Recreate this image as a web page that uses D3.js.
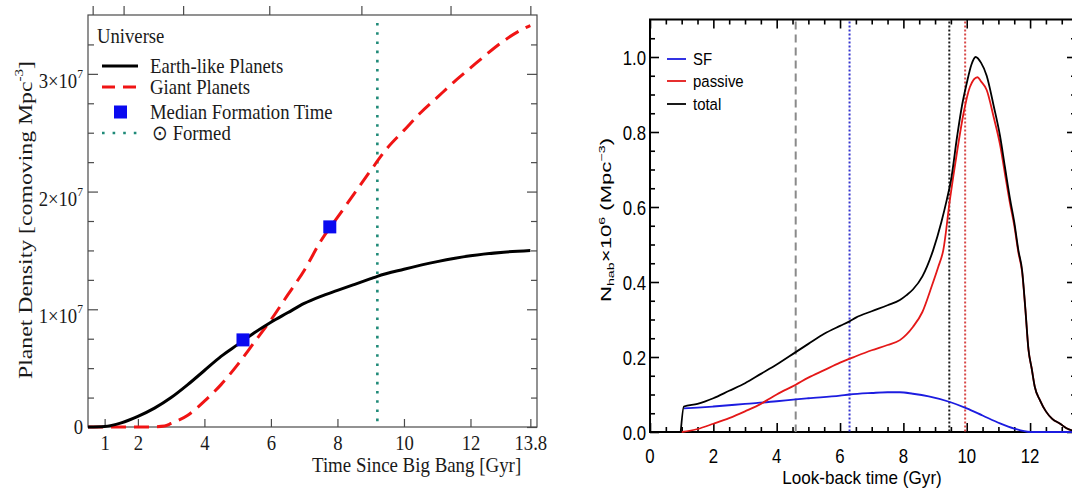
<!DOCTYPE html>
<html>
<head>
<meta charset="utf-8">
<script src="https://cdn.jsdelivr.net/npm/d3@7"></script>
<style>
  body { margin: 0; background: #fff; }
  svg { display: block; }
</style>
</head>
<body>
<div id="vis"></div>
<script>
// ---------- left panel data (time since Big Bang, density in units of 1e7 Mpc^-3)
const earthTime = [0.5, 1, 1.5, 2, 2.5, 3, 3.5, 4, 4.5, 5, 5.5, 6, 6.5, 7, 7.5, 8, 8.5, 9, 9.2, 10, 11, 12, 13, 13.8];
const earthDensity = [0, 0.004, 0.035, 0.09, 0.16, 0.25, 0.36, 0.48, 0.6, 0.7, 0.8, 0.89, 0.97, 1.05, 1.11, 1.16, 1.21, 1.26, 1.28, 1.34, 1.405, 1.455, 1.485, 1.5];
const giantTime = [0.5, 1, 1.5, 2, 2.5, 2.8, 3, 3.5, 4, 4.5, 5, 5.5, 6, 6.5, 7, 7.5, 8, 8.5, 9, 9.5, 10, 10.5, 11, 11.5, 12, 12.5, 13, 13.5, 13.8];
const giantDensity = [0, 0, 0, 0, 0.002, 0.008, 0.03, 0.1, 0.22, 0.36, 0.53, 0.72, 0.91, 1.12, 1.33, 1.58, 1.78, 1.98, 2.18, 2.37, 2.52, 2.67, 2.8, 2.93, 3.05, 3.17, 3.28, 3.37, 3.41];
const medianTime = [5.16, 7.77];
const medianDensity = [0.74, 1.7];
const sunFormedTime = 9.2;
const leftXTicks = [1, 2, 4, 6, 8, 10, 12, 13.8];
const leftYTicks = [0, 1, 2, 3];
const redshiftTickTimes = [0.64, 1.57, 3.36, 5.95, 8.72, 11.4, 13.8];
const leftLegend = ["Earth-like Planets", "Giant Planets", "Median Formation Time", "Formed"];

// ---------- right panel data (look-back time, N x 1e6 Mpc^-3)
const totalTime = [0.97, 1.07, 1.5, 2, 2.5, 3, 3.5, 4, 4.6, 5, 5.5, 6, 6.3, 6.5, 7, 7.5, 7.89, 8.1, 8.3, 8.6, 8.94, 9.2, 9.37, 9.5, 9.7, 9.85, 10.0, 10.15, 10.28, 10.45, 10.63, 10.85, 11.05, 11.2, 11.37, 11.5, 11.63, 11.75, 11.85, 11.95, 12.05, 12.15, 12.31, 12.5, 12.7, 12.95, 13.15, 13.45];
const totalDensity = [0, 0.068, 0.075, 0.09, 0.11, 0.13, 0.155, 0.18, 0.213, 0.235, 0.262, 0.283, 0.295, 0.305, 0.322, 0.338, 0.352, 0.365, 0.38, 0.415, 0.485, 0.56, 0.619, 0.67, 0.79, 0.87, 0.93, 0.98, 1.0, 0.985, 0.95, 0.87, 0.79, 0.71, 0.62, 0.56, 0.485, 0.43, 0.33, 0.22, 0.17, 0.12, 0.085, 0.055, 0.035, 0.022, 0.01, 0.002];
const passiveTime = [1.0, 1.5, 2, 2.5, 3, 3.5, 3.7, 4, 4.6, 5, 5.5, 6, 6.5, 7, 7.5, 7.89, 8.3, 8.6, 8.9, 9.1, 9.26, 9.47, 9.7, 9.9, 10.1, 10.34, 10.45, 10.63, 10.85, 11.05, 11.2, 11.37, 11.5, 11.63, 11.75, 11.85, 11.95, 12.05, 12.15, 12.31, 12.5, 12.7, 12.95, 13.15, 13.45];
const passiveDensity = [0, 0.008, 0.022, 0.037, 0.055, 0.075, 0.085, 0.1, 0.126, 0.145, 0.165, 0.185, 0.202, 0.218, 0.232, 0.245, 0.28, 0.32, 0.39, 0.44, 0.485, 0.62, 0.75, 0.85, 0.92, 0.946, 0.935, 0.912, 0.84, 0.767, 0.692, 0.608, 0.551, 0.479, 0.426, 0.328, 0.219, 0.17, 0.12, 0.085, 0.055, 0.035, 0.022, 0.01, 0.002];
const sfTime = [1.07, 1.5, 2, 3, 4, 4.6, 5, 6, 6.3, 7, 7.5, 7.89, 8.3, 8.8, 9.47, 10.0, 10.5, 11.05, 11.5, 12.0, 12.5, 13.45];
const sfDensity = [0.063, 0.065, 0.068, 0.075, 0.082, 0.087, 0.09, 0.097, 0.1, 0.104, 0.106, 0.106, 0.102, 0.095, 0.08, 0.063, 0.044, 0.023, 0.009, 0, 0, 0];
const markerTimes = [4.6, 6.3, 9.45, 9.95];
const rightXTicks = [0, 2, 4, 6, 8, 10, 12];
const rightYTicks = [0, 0.2, 0.4, 0.6, 0.8, 1.0];
const rightLegend = ["SF", "passive", "total"];

const W = 1072, H = 495;
const svg = d3.select("#vis").append("svg").attr("width", W).attr("height", H);
svg.append("rect").attr("width", W).attr("height", H).attr("fill", "#fff");

const SERIF = "'Liberation Serif', 'Times New Roman', serif";
const SANS = "'Liberation Sans', Arial, sans-serif";

// text helper: squeezed horizontally like the scanned figure
function label(g, x, y, str, opts) {
    const o = Object.assign({size: 21, k: 0.89, anchor: "start", font: SERIF, fill: "#1a1a1a", rot: 0, ky: 1}, opts);
    let tr = `translate(${x},${y})`;
    if (o.rot) tr += ` rotate(${o.rot})`;
    tr += ` scale(${o.k},${o.ky})`;
    return g.append("text")
        .attr("transform", tr)
        .attr("text-anchor", o.anchor)
        .attr("font-family", o.font)
        .attr("font-size", o.size)
        .attr("fill", o.fill)
        .text(str);
}

// ================= LEFT PANEL =================
const xL = d3.scaleLinear().domain([0.5, 14]).range([88, 537]);
const yL = d3.scaleLinear().domain([0, 3.5]).range([427, 15]);
const left = svg.append("g");
const frameL = "#4a4a4a";

function cleanAxis(g, color, w) {
    g.select(".domain").remove();
    g.selectAll(".tick line").attr("stroke", color).attr("stroke-width", w);
}

// bottom ticks + labels
left.append("g").attr("transform", `translate(0,${yL(0)})`)
    .call(d3.axisBottom(xL).tickValues(leftXTicks).tickSize(-8).tickPadding(8).tickFormat(d => d))
    .call(g => cleanAxis(g, frameL, 1.2))
    .call(g => g.selectAll("text").attr("font-family", SERIF).attr("font-size", 21)
        .attr("fill", "#1a1a1a").attr("transform", "scale(0.89,1)"));

// top ticks (redshift, outward, unlabeled)
left.append("g").attr("transform", `translate(0,${yL(3.5)})`)
    .call(d3.axisTop(xL).tickValues(redshiftTickTimes).tickSize(9).tickFormat(""))
    .call(g => cleanAxis(g, frameL, 1.2));

// left and right ticks
const minorL = d3.range(0.25, 3.5, 0.25).filter(v => Math.abs(v - Math.round(v)) > 0.01);
left.append("g").attr("transform", `translate(${xL(0.5)},0)`)
    .call(d3.axisLeft(yL).tickValues(leftYTicks).tickSize(-10).tickFormat(""))
    .call(g => cleanAxis(g, frameL, 1.2));
left.append("g").attr("transform", `translate(${xL(0.5)},0)`)
    .call(d3.axisLeft(yL).tickValues(minorL).tickSize(-6).tickFormat(""))
    .call(g => cleanAxis(g, frameL, 1.2));
left.append("g").attr("transform", `translate(${xL(14)},0)`)
    .call(d3.axisRight(yL).tickValues(leftYTicks).tickSize(-10).tickFormat(""))
    .call(g => cleanAxis(g, frameL, 1.2));
left.append("g").attr("transform", `translate(${xL(14)},0)`)
    .call(d3.axisRight(yL).tickValues(minorL).tickSize(-6).tickFormat(""))
    .call(g => cleanAxis(g, frameL, 1.2));

// y tick labels "n×10^7"
leftYTicks.forEach(v => {
    if (v === 0) {
        label(left, 83, yL(v) + 7, "0", {anchor: "end"});
    } else {
        const t = label(left, 83, yL(v) + 14, `${v}×10`, {anchor: "end"});
        t.append("tspan").attr("dy", -10).attr("font-size", 13).text("7");
    }
});

// frame
left.append("rect")
    .attr("x", xL(0.5)).attr("y", yL(3.5))
    .attr("width", xL(14) - xL(0.5)).attr("height", yL(0) - yL(3.5))
    .attr("fill", "none").attr("stroke", frameL).attr("stroke-width", 1.2);

// sun-formed marker
left.append("line")
    .attr("x1", xL(sunFormedTime)).attr("x2", xL(sunFormedTime))
    .attr("y1", yL(3.5) + 8).attr("y2", yL(0))
    .attr("stroke", "#1f8a78").attr("stroke-width", 2.6).attr("stroke-dasharray", "2.6,6.6");

const lineL = d3.line().x(d => xL(d[0])).y(d => yL(d[1])).curve(d3.curveMonotoneX);
left.append("path").datum(d3.zip(giantTime, giantDensity))
    .attr("d", lineL).attr("fill", "none").attr("stroke", "#f01414")
    .attr("stroke-width", 3).attr("stroke-dasharray", "15,8");
left.append("path").datum(d3.zip(earthTime, earthDensity))
    .attr("d", lineL).attr("fill", "none").attr("stroke", "#000").attr("stroke-width", 3);

left.selectAll(".median").data(d3.zip(medianTime, medianDensity)).join("rect")
    .attr("x", d => xL(d[0]) - 6.5).attr("y", d => yL(d[1]) - 6.5)
    .attr("width", 13).attr("height", 13).attr("fill", "#0a0af0");

// axis titles
label(left, 312, 472, "Time Since Big Bang [Gyr]", {k: 0.9});
const yt = label(left, 32, 220, "Planet Density [comoving Mpc", {rot: -90, anchor: "middle", size: 22, k: 1.08, ky: 0.89});
yt.append("tspan").attr("dy", -10).attr("font-size", 14).text("-3");
yt.append("tspan").attr("dy", 10).text("]");

// legend
label(left, 97, 43, "Universe");
const legY = [66, 87, 112, 133];
left.append("line").attr("x1", 102).attr("x2", 138).attr("y1", legY[0]).attr("y2", legY[0])
    .attr("stroke", "#000").attr("stroke-width", 3);
left.append("line").attr("x1", 102).attr("x2", 138).attr("y1", legY[1]).attr("y2", legY[1])
    .attr("stroke", "#f01414").attr("stroke-width", 3).attr("stroke-dasharray", "13,8");
left.append("rect").attr("x", 114).attr("y", legY[2] - 6.5).attr("width", 13).attr("height", 13).attr("fill", "#0a0af0");
left.append("line").attr("x1", 102).attr("x2", 140).attr("y1", legY[3]).attr("y2", legY[3])
    .attr("stroke", "#1f8a78").attr("stroke-width", 2.6).attr("stroke-dasharray", "2.6,8");
leftLegend.forEach((s, i) => {
    if (i === 3) {
        label(left, 152, legY[i] + 7, "⊙ " + s);
    } else {
        label(left, 150, legY[i] + 7, s);
    }
});

// ================= RIGHT PANEL =================
const xR = d3.scaleLinear().domain([0, 13.45]).range([650, 1076]);
const yR = d3.scaleLinear().domain([0, 1.1]).range([432, 19.5]);
const right = svg.append("g");

const minorRX = d3.range(0.5, 13.45, 0.5).filter(v => v % 2 !== 0);
const minorRY = d3.range(0.05, 1.1, 0.05).filter(v => Math.abs(v * 5 - Math.round(v * 5)) > 0.01);

function rTicks(axis, x, y, vals, size) {
    right.append("g").attr("transform", `translate(${x},${y})`)
        .call(axis.tickValues(vals).tickSize(size).tickFormat(""))
        .call(g => cleanAxis(g, "#000", 1.6));
}
rTicks(d3.axisBottom(xR), 0, yR(0), rightXTicks, -9);
rTicks(d3.axisBottom(xR), 0, yR(0), minorRX, -5);
rTicks(d3.axisTop(xR), 0, yR(1.1), rightXTicks, -9);
rTicks(d3.axisTop(xR), 0, yR(1.1), minorRX, -5);
rTicks(d3.axisLeft(yR), xR(0), 0, rightYTicks, -9);
rTicks(d3.axisLeft(yR), xR(0), 0, minorRY, -5);
rTicks(d3.axisRight(yR), xR(13.45), 0, rightYTicks, -9);
rTicks(d3.axisRight(yR), xR(13.45), 0, minorRY, -5);

rightXTicks.forEach(v => label(right, xR(v), 463, String(v), {font: SANS, size: 21, k: 0.8, anchor: "middle", fill: "#000"}));
rightYTicks.forEach(v => label(right, 646, yR(v) + 8, v.toFixed(1), {font: SANS, size: 21, k: 0.8, anchor: "end", fill: "#000"}));

right.append("rect")
    .attr("x", xR(0)).attr("y", yR(1.1))
    .attr("width", xR(13.45) - xR(0)).attr("height", yR(0) - yR(1.1))
    .attr("fill", "none").attr("stroke", "#000").attr("stroke-width", 2);

// vertical markers
const markerStyle = [
    {c: "#8a8a8a", dash: "8,5", w: 2},
    {c: "#3434d0", dash: "2,2", w: 2},
    {c: "#1a1a1a", dash: "2,2", w: 2},
    {c: "#d84848", dash: "2,2", w: 2}
];
markerTimes.forEach((t, i) => {
    right.append("line")
        .attr("x1", xR(t)).attr("x2", xR(t)).attr("y1", yR(1.1) + 2).attr("y2", yR(0))
        .attr("stroke", markerStyle[i].c).attr("stroke-width", markerStyle[i].w)
        .attr("stroke-dasharray", markerStyle[i].dash);
});

const lineR = d3.line().x(d => xR(d[0])).y(d => yR(d[1])).curve(d3.curveMonotoneX);
right.append("path").datum(d3.zip(sfTime, sfDensity))
    .attr("d", lineR).attr("fill", "none").attr("stroke", "#1c1ce0").attr("stroke-width", 1.8);
right.append("path").datum(d3.zip(passiveTime, passiveDensity))
    .attr("d", lineR).attr("fill", "none").attr("stroke", "#e41818").attr("stroke-width", 1.8);
right.append("path").datum(d3.zip(totalTime, totalDensity))
    .attr("d", lineR).attr("fill", "none").attr("stroke", "#000").attr("stroke-width", 1.8);

// legend
const legColors = ["#1c1ce0", "#e41818", "#000"];
const legRY = [59, 81, 104];
rightLegend.forEach((s, i) => {
    right.append("line").attr("x1", 667).attr("x2", 686).attr("y1", legRY[i]).attr("y2", legRY[i])
        .attr("stroke", legColors[i]).attr("stroke-width", 1.8);
    label(right, 693, legRY[i] + 6, s, {font: SANS, size: 17, k: 0.88, fill: "#000"});
});

// axis titles
label(right, 862, 484, "Look-back time (Gyr)", {font: SANS, size: 18, k: 0.95, anchor: "middle", fill: "#000"});
const ry = label(right, 611, 220, "N", {font: SANS, size: 17, rot: -90, anchor: "middle", k: 1.3, ky: 0.85, fill: "#000"});
ry.append("tspan").attr("dy", 4).attr("font-size", 11).text("hab");
ry.append("tspan").attr("dy", -4).text("×10");
ry.append("tspan").attr("dy", -7).attr("font-size", 11).text("6");
ry.append("tspan").attr("dy", 7).text(" (Mpc");
ry.append("tspan").attr("dy", -7).attr("font-size", 11).text("−3");
ry.append("tspan").attr("dy", 7).text(")");
</script>
</body>
</html>
